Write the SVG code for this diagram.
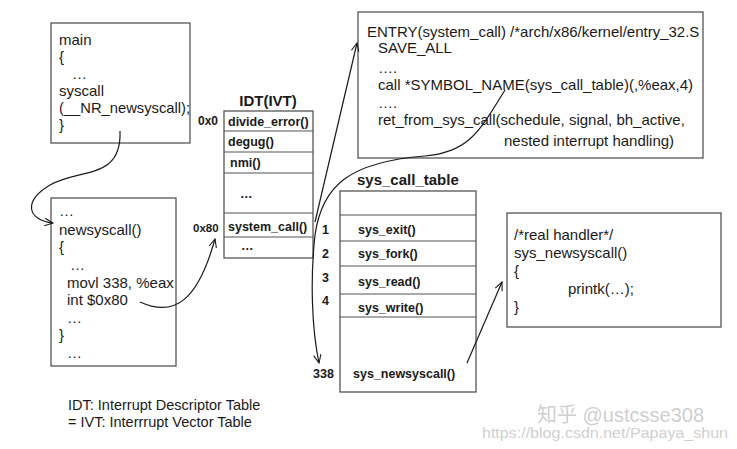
<svg xmlns="http://www.w3.org/2000/svg" width="737" height="449" viewBox="0 0 737 449">
<defs>
<style>
.box{fill:#fff;stroke:#555;stroke-width:1.3}
.ln{stroke:#555;stroke-width:1.2}
.t{font-family:"Liberation Sans",Arial,sans-serif;font-size:15px;fill:#1a1a1a}
.b{font-family:"Liberation Sans",Arial,sans-serif;font-size:12.5px;font-weight:bold;fill:#1a1a1a}
.h{font-family:"Liberation Sans",Arial,sans-serif;font-size:15px;font-weight:bold;fill:#1a1a1a}
.c{fill:none;stroke:#1a1a1a;stroke-width:1.2}
.wm{font-family:"Liberation Sans","Noto Sans CJK SC",sans-serif;fill:#cfcfcf}
</style>
<marker id="ah" viewBox="0 0 12 12" refX="11" refY="6" markerWidth="10" markerHeight="10" orient="auto" markerUnits="userSpaceOnUse">
<polyline points="1,1.5 11,6 1,10.5" fill="none" stroke="#1a1a1a" stroke-width="1.3"/>
</marker>
</defs>
<rect width="737" height="449" fill="#fff"/>

<g id="main">
<rect class="box" x="51" y="23" width="139" height="120"/>
<text class="t" x="59" y="45">main</text>
<text class="t" x="59" y="62">{</text>
<text class="t" x="72" y="79">…</text>
<text class="t" x="59" y="96">syscall</text>
<text class="t" x="59" y="113" textLength="131" lengthAdjust="spacingAndGlyphs">(__NR_newsyscall);</text>
<text class="t" x="59" y="130">}</text>
</g>

<g id="newsyscall">
<rect class="box" x="51" y="198" width="125" height="168"/>
<text class="t" x="59" y="216">…</text>
<text class="t" x="59" y="235">newsyscall()</text>
<text class="t" x="59" y="252">{</text>
<text class="t" x="70" y="270">…</text>
<text class="t" x="67" y="288">movl 338, %eax</text>
<text class="t" x="67" y="305">int $0x80</text>
<text class="t" x="67" y="323">…</text>
<text class="t" x="59" y="340">}</text>
<text class="t" x="67" y="358">…</text>
</g>

<g id="idt">
<text class="h" x="268" y="106" text-anchor="middle">IDT(IVT)</text>
<rect class="box" x="224" y="111" width="89" height="147"/>
<line class="ln" x1="224" y1="131" x2="313" y2="131"/>
<line class="ln" x1="224" y1="152" x2="313" y2="152"/>
<line class="ln" x1="224" y1="173" x2="313" y2="173"/>
<line class="ln" x1="224" y1="213" x2="313" y2="213"/>
<line class="ln" x1="224" y1="237" x2="313" y2="237"/>
<text class="b" x="228" y="126">divide_error()</text>
<text class="b" x="228" y="146">degug()</text>
<text class="b" x="230" y="167">nmi()</text>
<text class="b" x="240" y="198">…</text>
<text class="b" x="228" y="231">system_call()</text>
<text class="b" x="241" y="250">…</text>
<text class="b" x="198" y="125" style="font-size:12px">0x0</text>
<text class="b" x="193" y="232" style="font-size:11.5px">0x80</text>
</g>

<g id="entry">
<rect class="box" x="358" y="12" width="345" height="146"/>
<text class="t" x="367" y="37">ENTRY(system_call) /*arch/x86/kernel/entry_32.S</text>
<text class="t" x="378" y="53">SAVE_ALL</text>
<text class="t" x="378" y="73">….</text>
<text class="t" x="378" y="90">call *SYMBOL_NAME(sys_call_table)(,%eax,4)</text>
<text class="t" x="378" y="108">….</text>
<text class="t" x="378" y="125">ret_from_sys_call(schedule, signal, bh_active,</text>
<text class="t" x="504" y="146">nested interrupt handling)</text>
</g>

<g id="sys_call_table">
<text class="h" x="357" y="185">sys_call_table</text>
<rect class="box" x="340" y="191" width="136" height="201"/>
<line class="ln" x1="340" y1="215" x2="476" y2="215"/>
<line class="ln" x1="340" y1="241" x2="476" y2="241"/>
<line class="ln" x1="340" y1="266" x2="476" y2="266"/>
<line class="ln" x1="340" y1="294" x2="476" y2="294"/>
<line class="ln" x1="340" y1="317" x2="476" y2="317"/>
<text class="b" x="358" y="234">sys_exit()</text>
<text class="b" x="358" y="258">sys_fork()</text>
<text class="b" x="358" y="286">sys_read()</text>
<text class="b" x="358" y="312">sys_write()</text>
<text class="b" x="353" y="378">sys_newsyscall()</text>
<text class="b" x="322" y="234">1</text>
<text class="b" x="322" y="258">2</text>
<text class="b" x="322" y="282">3</text>
<text class="b" x="322" y="305">4</text>
<text class="b" x="313" y="378">338</text>
</g>

<g id="handler">
<rect class="box" x="507" y="213" width="214" height="114"/>
<text class="t" x="514" y="240">/*real handler*/</text>
<text class="t" x="514" y="258">sys_newsyscall()</text>
<text class="t" x="514" y="276">{</text>
<text class="t" x="568" y="294">printk(…);</text>
<text class="t" x="514" y="312">}</text>
</g>

<g id="connectors">
<path class="c" d="M120,131 C122,180 80,168 50,185 C22,202 28,220 53,223" marker-end="url(#ah)"/>
<path class="c" d="M140,302 C175,318 198,300 215,239" marker-end="url(#ah)"/>
<path class="c" d="M315,222 L357,43" marker-end="url(#ah)"/>
<path class="c" d="M505,90 C480,130 470,152 425,156 C350,162 322,185 315,235 C310,280 312,330 319,363" marker-end="url(#ah)"/>
<path class="c" d="M467,363 L502,282" marker-end="url(#ah)"/>
</g>

<g id="legend">
<text class="t" x="68" y="410" style="font-size:14.5px">IDT: Interrupt Descriptor Table</text>
<text class="t" x="68" y="427" style="font-size:14.5px">= IVT: Interrrupt Vector Table</text>
</g>

<g id="watermark">
<text class="wm" x="537" y="422" style="font-size:20px">知乎 @ustcsse308</text>
<text class="wm" x="482" y="438" style="font-size:14px" textLength="246" lengthAdjust="spacingAndGlyphs">https://blog.csdn.net/Papaya_shun</text>
</g>
</svg>
